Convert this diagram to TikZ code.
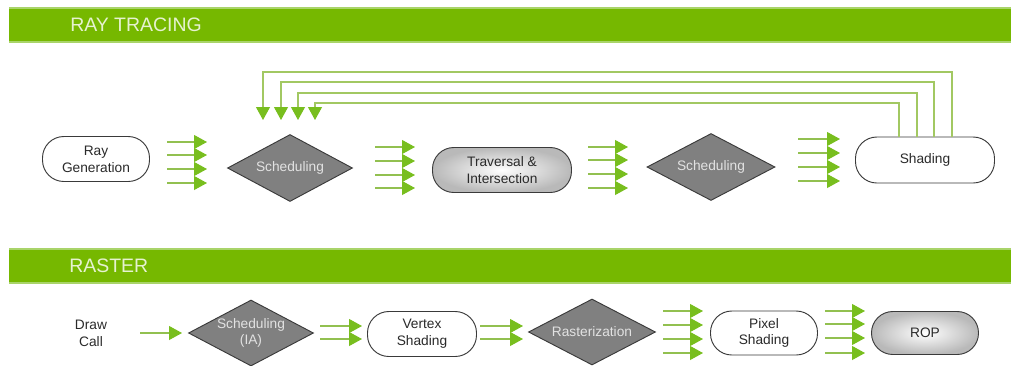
\documentclass[tikz,border=0pt]{standalone}
\usepackage{fontspec}
\setmainfont{Liberation Sans}
\usetikzlibrary{shapes.geometric,arrows.meta}
\definecolor{nvgreen}{HTML}{76B800}
\definecolor{bandedge}{HTML}{A9D46A}
\definecolor{bandtext}{HTML}{E6F2D0}
\definecolor{shaft}{HTML}{92C050}
\definecolor{tipgreen}{HTML}{78BE1E}
\definecolor{loopgreen}{HTML}{A2C862}
\definecolor{boxline}{HTML}{3A3A3A}
\definecolor{diafill}{HTML}{808080}
\definecolor{diatext}{HTML}{E2E2E2}
\definecolor{labeltext}{HTML}{2A2A2A}
\begin{document}
\begin{tikzpicture}[x=0.75pt,y=-0.75pt,
  band/.style={fill=nvgreen},
  bandline/.style={draw=bandedge,line width=0.8pt},
  bandlabel/.style={anchor=west,text=bandtext,font=\fontsize{14.6}{16}\selectfont,inner sep=0pt},
  pill/.style={draw=boxline,line width=0.7pt,fill=white,rounded corners=16pt,
    align=center,text=labeltext,font=\fontsize{10.3}{12.6}\selectfont,inner sep=0pt},
  pillshade/.style={pill,inner color=white,outer color=gray!55},
  decision/.style={diamond,aspect=1.87,draw=boxline,line width=0.7pt,fill=diafill,
    align=center,text=diatext,font=\fontsize{10.3}{12.6}\selectfont,inner sep=0pt},
  plain/.style={align=center,text=labeltext,font=\fontsize{10.3}{12.6}\selectfont,inner sep=0pt},
  flow/.style={draw=shaft,line width=0.8pt,-{Triangle[length=9.75pt,width=10.5pt,fill=tipgreen,color=tipgreen]}},
  loop/.style={draw=loopgreen,line width=0.8pt,-{Triangle[length=9.75pt,width=10.5pt,fill=tipgreen,color=tipgreen]}}
]
\useasboundingbox (0,0) rectangle (1011,365);

% ---- section bands ----
\fill[band] (9,8) rectangle (1011,42);
\draw[bandline] (9,8) -- (1011,8) (9,42) -- (1011,42);
\node[bandlabel] (rtlabel) at (70,25) {RAY TRACING};

\fill[band] (9,249) rectangle (1011,283);
\draw[bandline] (9,249) -- (1011,249) (9,283) -- (1011,283);
\node[bandlabel] (rslabel) at (69,266) {RASTER};

% ---- ray tracing pipeline ----
\node[pill,minimum width=80.25pt,minimum height=33.75pt] (raygen) at (96,159) {Ray\\Generation};
\node[decision,minimum width=93.75pt,minimum height=50.25pt] (schedA) at (290,168) {Scheduling};
\node[pillshade,minimum width=104.25pt,minimum height=33.75pt] (trav) at (502,170) {Traversal \&\\Intersection};
\node[decision,minimum width=96pt,minimum height=50.25pt] (schedB) at (711,167) {Scheduling};
\node[pill,minimum width=104.25pt,minimum height=34.5pt] (shade) at (925,160) {Shading};

\foreach \yy in {142,155,169,183} \draw[flow] (167,\yy) -- (207,\yy);
\foreach \yy in {147,161,175,188} \draw[flow] (375,\yy) -- (415,\yy);
\foreach \yy in {147,160,174,188} \draw[flow] (588,\yy) -- (628,\yy);
\foreach \yy in {139,153,167,181} \draw[flow] (798,\yy) -- (840,\yy);

% feedback paths from shading back to the first scheduler
\foreach \xs/\lev/\xt in {952/72/263, 934/82/281, 917/93/298, 899/103/315}
  \draw[loop] (shade.north -| \xs,0) -- (\xs,\lev) -- (\xt,\lev) -- (\xt,120);

% ---- raster pipeline ----
\node[plain] (drawcall) at (91,333) {Draw\\Call};
\node[decision,minimum width=93.75pt,minimum height=49.5pt] (schedIA) at (251,333) {Scheduling\\(IA)};
\node[pill,minimum width=81.75pt,minimum height=33.75pt] (vertex) at (422,334) {Vertex\\Shading};
\node[decision,minimum width=95.25pt,minimum height=49.5pt] (raster) at (592,332) {Rasterization};
\node[pill,minimum width=80.25pt,minimum height=33pt] (pixel) at (764,333) {Pixel\\Shading};
\node[pillshade,minimum width=80.25pt,minimum height=32.25pt] (rop) at (925,333) {ROP};

\draw[flow] (140,333) -- (182,333);
\foreach \yy in {326,339} \draw[flow] (320,\yy) -- (362,\yy);
\foreach \yy in {326,339} \draw[flow] (480,\yy) -- (523,\yy);
\foreach \yy in {311,325,339,353} \draw[flow] (663,\yy) -- (703,\yy);
\foreach \yy in {311,324,338,353} \draw[flow] (825,\yy) -- (865,\yy);
\end{tikzpicture}
\end{document}
